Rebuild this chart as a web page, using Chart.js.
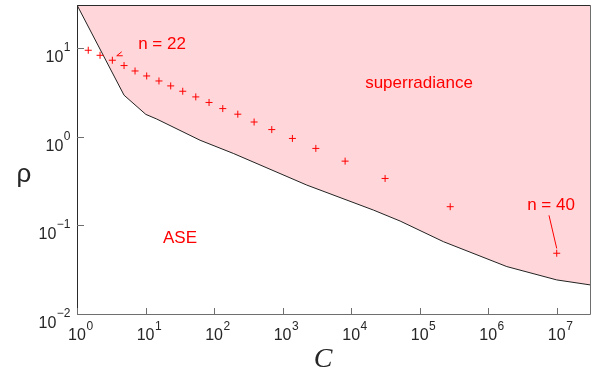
<!DOCTYPE html>
<html>
<head>
<meta charset="utf-8">
<script src="https://cdn.jsdelivr.net/npm/chart.js@4/dist/chart.umd.min.js"></script>
<style>
  html, body { margin: 0; padding: 0; background: #fff; }
  #wrap { width: 598px; height: 372px; }
</style>
</head>
<body>
<div id="wrap"><canvas id="chart" width="598" height="372"></canvas></div>
<script>
// boundary between ASE and superradiance (C, rho)
const boundaryC   = [1, 4.86, 10.1, 14.6, 62.5, 191, 2254, 21150, 51900, 222000, 1.87e6, 1.0e7, 3.16e7];
const boundaryRho = [31.6, 3.03, 1.84, 1.63, 0.94, 0.667, 0.293, 0.153, 0.115, 0.0673, 0.0352, 0.0249, 0.0218];

// simulated points n = 20 ... 40
const nValues  = [20, 21, 22, 23, 24, 25, 26, 27, 28, 29, 30, 31, 32, 33, 34, 35, 36, 37, 38, 39, 40];
const crossC   = [1.46, 2.17, 3.28, 4.86, 7.03, 10.4, 15.7, 23.3, 34.9, 54.1, 84.5, 134, 222, 384, 695, 1390, 3055, 8170, 31300, 279000, 1.0e7];
const crossRho = [9.75, 8.55, 7.52, 6.55, 5.69, 5.0, 4.39, 3.86, 3.36, 2.90, 2.51, 2.14, 1.85, 1.51, 1.24, 0.985, 0.760, 0.546, 0.348, 0.167, 0.0498];

// axis decades
const xTickExps = [0, 1, 2, 3, 4, 5, 6, 7];
const yTickExps = [-2, -1, 0, 1];

// text labels placed in data coordinates (centre x, baseline)
const annoText = ['superradiance', 'ASE', 'n = 22', 'n = 40'];
const annoC    = [97800, 31.8, 17.4, 8.25e6];
const annoRho  = [3.68, 0.0646, 10.1, 0.155];

const boundaryData = boundaryC.map((c, i) => ({ x: c, y: boundaryRho[i] }));
const crossData = crossC.map((c, i) => ({ x: c, y: crossRho[i] }));

const sans = "'Liberation Sans', Arial, Helvetica, sans-serif";

function supLabel(ctx, exp, px, py, align) {
  const base = '10';
  const sup = String(exp).replace('-', '\u2212');
  ctx.font = '16px ' + sans;
  const bw = ctx.measureText(base).width;
  ctx.font = '12px ' + sans;
  const sw = ctx.measureText(sup).width;
  let left;
  if (align === 'x') left = px - bw / 2;      // base centred on tick
  else left = px - bw - sw;                    // whole label right aligned
  const baseY = align === 'x' ? py : py + 13;
  const supY = align === 'x' ? py - 10 : py + 2;
  ctx.font = '16px ' + sans;
  ctx.textAlign = 'left';
  ctx.textBaseline = 'alphabetic';
  ctx.fillText(base, left, baseY);
  ctx.font = '12px ' + sans;
  ctx.fillText(sup, left + bw + 0.5, supY);
}

const axesPlugin = {
  id: 'axesPlugin',
  afterDatasetsDraw(chart) {
    const { ctx, chartArea: a, scales: { x, y } } = chart;
    ctx.save();

    // annotations
    ctx.fillStyle = '#ff0000';
    ctx.font = '17px ' + sans;
    ctx.textAlign = 'center';
    ctx.textBaseline = 'alphabetic';
    annoText.forEach((t, i) => {
      ctx.fillText(t, x.getPixelForValue(annoC[i]), y.getPixelForValue(annoRho[i]));
    });

    // leader line for n = 40
    ctx.strokeStyle = '#ff0000';
    ctx.lineWidth = 1;
    ctx.beginPath();
    ctx.moveTo(x.getPixelForValue(7.71e6), y.getPixelForValue(0.1334));
    ctx.lineTo(x.getPixelForValue(1.0e7), y.getPixelForValue(0.0564));
    ctx.stroke();

    // small arrow head for n = 22
    const tx = x.getPixelForValue(3.80), ty = y.getPixelForValue(8.45);
    ctx.beginPath();
    ctx.moveTo(tx + 5, ty - 4);
    ctx.lineTo(tx, ty);
    ctx.lineTo(tx + 6, ty);
    ctx.stroke();

    // frame
    ctx.strokeStyle = '#2a2a2a';
    ctx.lineWidth = 1;
    ctx.beginPath();
    ctx.moveTo(a.left + 0.5, a.bottom - 0.5);
    ctx.lineTo(a.left + 0.5, a.top + 0.5);
    ctx.lineTo(a.right - 0.5, a.top + 0.5);
    ctx.stroke();
    ctx.strokeStyle = '#6e6e6e';
    ctx.beginPath();
    ctx.moveTo(a.right - 0.5, a.top + 0.5);
    ctx.lineTo(a.right - 0.5, a.bottom - 0.5);
    ctx.lineTo(a.left + 0.5, a.bottom - 0.5);
    ctx.stroke();

    // inward ticks
    ctx.strokeStyle = '#6e6e6e';
    ctx.beginPath();
    xTickExps.forEach(e => {
      const px = Math.round(x.getPixelForValue(Math.pow(10, e))) + 0.5;
      ctx.moveTo(px, a.bottom);
      ctx.lineTo(px, a.bottom - 7);
    });
    yTickExps.forEach(e => {
      const py = Math.round(y.getPixelForValue(Math.pow(10, e))) - 0.5;
      ctx.moveTo(a.left, py);
      ctx.lineTo(a.left + 7, py);
    });
    ctx.stroke();

    // tick labels
    ctx.fillStyle = '#262626';
    xTickExps.forEach(e => supLabel(ctx, e, x.getPixelForValue(Math.pow(10, e)), 340, 'x'));
    yTickExps.forEach(e => supLabel(ctx, e, 70, y.getPixelForValue(Math.pow(10, e)), 'y'));

    // axis titles
    ctx.textAlign = 'center';
    ctx.font = '26px ' + sans;
    ctx.fillText('\u03c1', 24, 182);
    ctx.font = "italic 28px 'Liberation Serif', 'Times New Roman', serif";
    ctx.fillText('C', 323, 367);

    ctx.restore();
  }
};

new Chart(document.getElementById('chart'), {
  type: 'scatter',
  data: {
    datasets: [
      {
        label: 'boundary',
        data: boundaryData,
        showLine: true,
        fill: 'end',
        backgroundColor: '#ffd7da',
        borderColor: '#222222',
        borderWidth: 1,
        pointRadius: 0,
        tension: 0,
        order: 2
      },
      {
        label: 'n',
        data: crossData,
        pointStyle: 'cross',
        pointRadius: 3.5,
        borderColor: '#ff0000',
        backgroundColor: '#ff0000',
        borderWidth: 1,
        order: 1
      }
    ]
  },
  options: {
    responsive: false,
    animation: false,
    devicePixelRatio: 1,
    layout: { padding: { left: 77, right: 7, top: 4, bottom: 57 } },
    plugins: { legend: { display: false }, tooltip: { enabled: false } },
    scales: {
      x: { type: 'logarithmic', min: 1, max: Math.pow(10, 7.5), display: false },
      y: { type: 'logarithmic', min: 0.01, max: Math.pow(10, 1.5), display: false }
    }
  },
  plugins: [axesPlugin]
});
</script>
</body>
</html>
